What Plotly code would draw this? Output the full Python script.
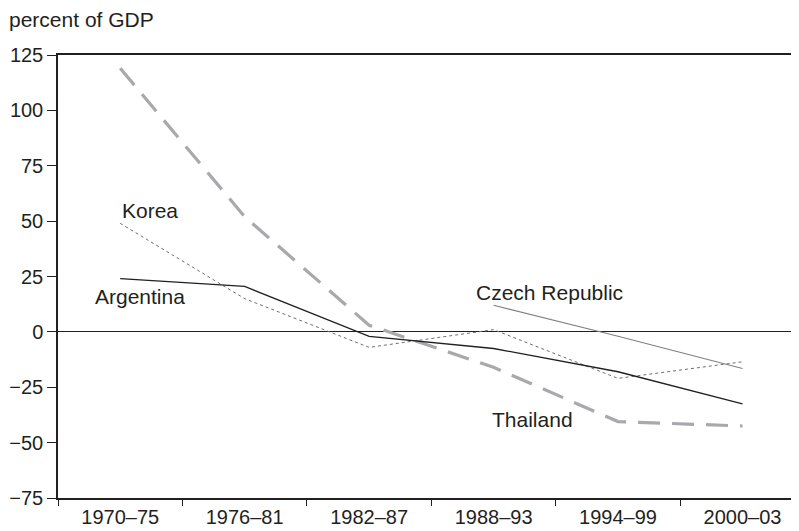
import plotly.graph_objects as go

periods = ["1970–75", "1976–81", "1982–87", "1988–93", "1994–99", "2000–03"]

argentina = [24, 20.5, -2, -7.5, -18, -32.5]
korea = [49, 15, -7, 1, -21, -13.5]
thailand = [119, 52, 3, -16, -40.5, -42.5]
czech = [None, None, None, 12, -2, -16.5]

y_ticks = [125, 100, 75, 50, 25, 0, -25, -50, -75]

FONT = "Liberation Sans, Arial, sans-serif"
INK = "#231f20"

fig = go.Figure()

# thick grey long-dash line first so thin lines sit on top
fig.add_trace(go.Scatter(
    x=periods, y=thailand, mode="lines",
    line=dict(color="#a7a9ac", width=3.2, dash="22px,12px"),
))
fig.add_trace(go.Scatter(
    x=periods, y=czech, mode="lines",
    line=dict(color="#808080", width=1.1),
))
fig.add_trace(go.Scatter(
    x=periods, y=korea, mode="lines",
    line=dict(color="#6d6e71", width=1, dash="3px,3px"),
))
fig.add_trace(go.Scatter(
    x=periods, y=argentina, mode="lines",
    line=dict(color=INK, width=1.3),
))

labels = [
    ("Korea", 0.24, 55),
    ("Argentina", 0.16, 16),
    ("Czech Republic", 3.45, 18),
    ("Thailand", 3.31, -39.5),
]
for text, x, y in labels:
    fig.add_annotation(x=x, y=y, text=text, showarrow=False,
                       font=dict(size=21, color=INK, family=FONT))

fig.add_annotation(xref="paper", yref="paper", x=-0.069, y=1.11,
                   xanchor="left", yanchor="top", showarrow=False,
                   text="percent of GDP",
                   font=dict(size=21, color=INK, family=FONT))

fig.update_xaxes(
    type="category", range=[-0.5, 5.454], automargin=False,
    tickson="boundaries", ticks="outside", ticklen=6, tickwidth=1.2,
    tickcolor=INK, showline=True, linecolor=INK, linewidth=1.5,
    mirror=True, showgrid=False, zeroline=False,
    tickfont=dict(size=20, color=INK, family=FONT),
)
fig.update_yaxes(
    range=[-75, 125], tickvals=y_ticks, ticks="outside", ticklen=9,
    automargin=False,
    tickwidth=1.2, tickcolor=INK, showline=True, linecolor=INK,
    linewidth=1.5, showgrid=False, zeroline=True, zerolinecolor=INK,
    zerolinewidth=1, tickfont=dict(size=20, color=INK, family=FONT),
)

# page body keeps an 8px margin, so the figure is sized to fit inside the window
fig.update_layout(
    width=791, height=523,
    margin=dict(l=50, r=0, t=47, b=33),
    showlegend=False,
    plot_bgcolor="white", paper_bgcolor="white",
    font=dict(family=FONT, color=INK),
)

fig.write_html("out.html")
